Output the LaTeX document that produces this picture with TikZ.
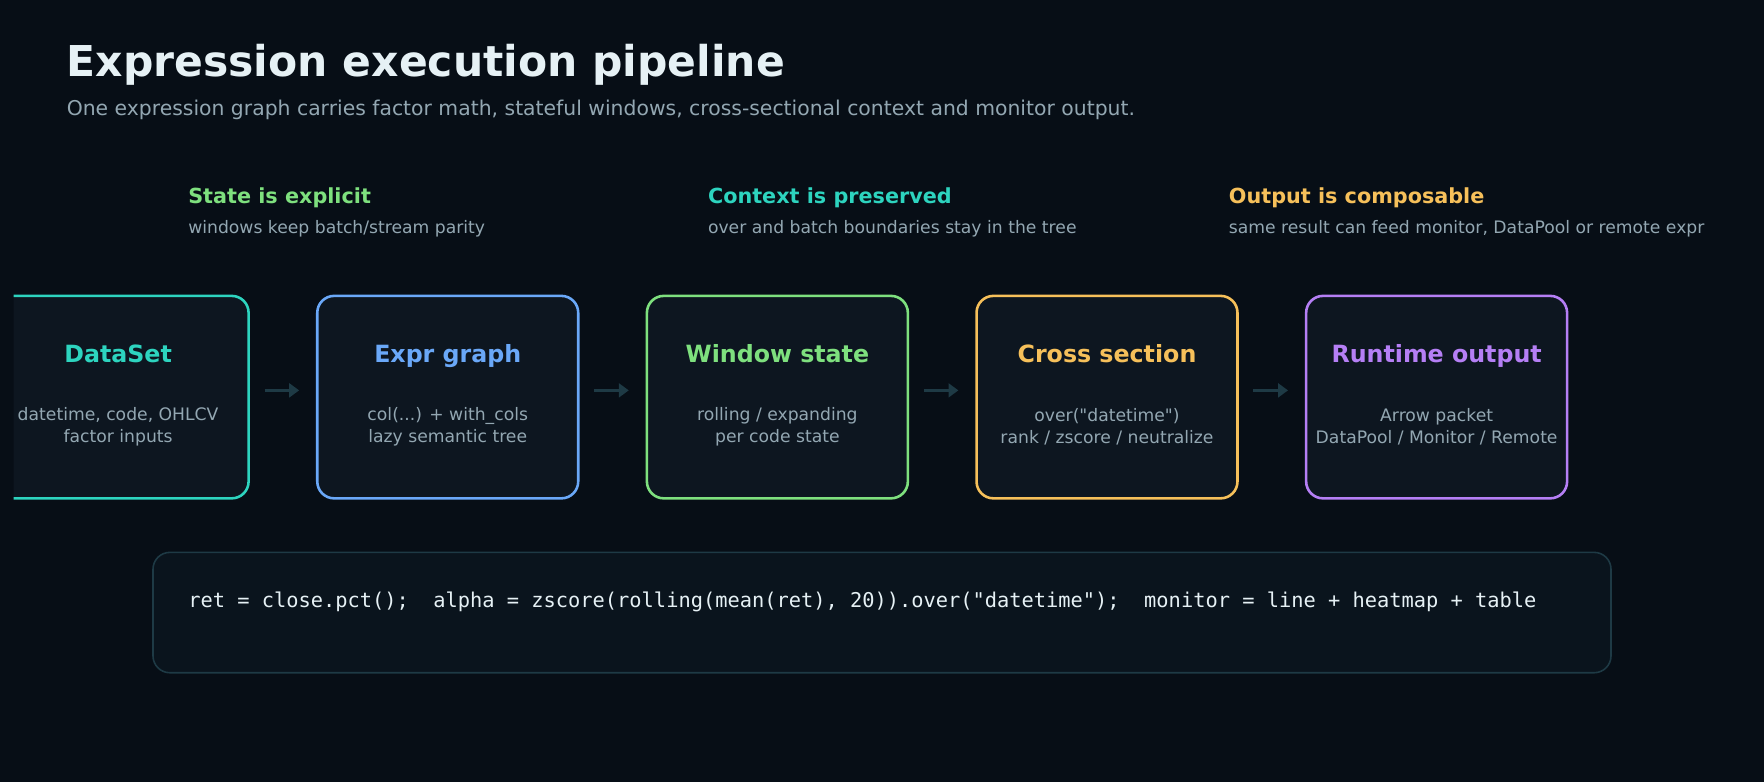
\documentclass[tikz,border=0pt]{standalone}
\usepackage{fontspec}
\setmainfont{DejaVu Sans}
\setmonofont{DejaVu Sans Mono}
\usetikzlibrary{arrows.meta}
\definecolor{bg}{HTML}{070E16}
\definecolor{boxfill}{HTML}{0D1620}
\definecolor{codefill}{HTML}{0A141D}
\definecolor{edge}{HTML}{1E3A45}
\definecolor{titlecol}{HTML}{E6F1F5}
\definecolor{muted}{HTML}{93A7B2}
\definecolor{cteal}{HTML}{2DD4BF}
\definecolor{cblue}{HTML}{6AA8F8}
\definecolor{cgreen}{HTML}{7EE07E}
\definecolor{corange}{HTML}{F6C05A}
\definecolor{cpurple}{HTML}{B57FF5}
\tikzset{
  stage/.style={draw=#1, line width=1.3pt, fill=boxfill, rounded corners=0.3cm,
    minimum width=4.64cm, minimum height=3.6cm},
  stagetitle/.style={font=\fontsize{12}{14}\selectfont\bfseries, text=#1, anchor=base, inner sep=0pt},
  stagetext/.style={font=\fontsize{8.7}{11.2}\selectfont, text=muted, align=center},
  headline/.style={font=\fontsize{10.5}{12}\selectfont\bfseries, text=#1, anchor=base west, inner sep=0pt},
  subline/.style={font=\fontsize{8.7}{10}\selectfont, text=muted, anchor=base west, inner sep=0pt},
  flow/.style={edge, line width=1.2pt, -{Triangle[length=5pt,width=7pt]}, shorten <=0.26cm, shorten >=0.3cm}
}
\begin{document}
\begin{tikzpicture}[x=0.02cm,y=-0.02cm]
\fill[bg] (0,0) rectangle (1568,695);
\useasboundingbox (0,0) rectangle (1568,695);

% title
\node[font=\fontsize{21.5}{24}\selectfont\bfseries, text=titlecol, anchor=base west, inner sep=0pt] (title) at (59,68) {Expression execution pipeline};
\node[font=\fontsize{10.3}{12}\selectfont, text=muted, anchor=base west, inner sep=0pt] (subtitle) at (59,103) {One expression graph carries factor math, stateful windows, cross-sectional context and monitor output.};

% notes
\node[headline=cgreen] (h1) at (167,181) {State is explicit};
\node[subline] (s1) at (167,208) {windows keep batch/stream parity};
\node[headline=cteal] (h2) at (629,181) {Context is preserved};
\node[subline] (s2) at (629,208) {over and batch boundaries stay in the tree};
\node[headline=corange] (h3) at (1092,181) {Output is composable};
\node[subline] (s3) at (1092,208) {same result can feed monitor, DataPool or remote expr};

% stages
\begin{scope}
\clip (12,250) rectangle (1568,460);
\node[stage=cteal] (dataset) at (105,353) {};
\end{scope}
\node[stage=cblue] (expr) at (398,353) {};
\node[stage=cgreen] (window) at (691,353) {};
\node[stage=corange] (cross) at (984,353) {};
\node[stage=cpurple] (runtime) at (1277,353) {};

\foreach \n/\c/\t/\s in {dataset/cteal/DataSet/{datetime, code, OHLCV\\factor inputs},
    expr/cblue/Expr graph/{col(...) + with\_cols\\lazy semantic tree},
    window/cgreen/Window state/{rolling / expanding\\per code state},
    cross/corange/Cross section/{over(\textquotedbl datetime\textquotedbl)\\rank / zscore / neutralize},
    runtime/cpurple/Runtime output/{Arrow packet\\DataPool / Monitor / Remote}} {
  \node[stagetitle=\c] (\n-title) at ([yshift=-1.2cm]\n.north) {\t};
  \node[stagetext] (\n-text) at ([yshift=-2.35cm]\n.north) {\s};
}

\draw[flow] (dataset.east |- 0,347) -- (expr.west |- 0,347);
\draw[flow] (expr.east |- 0,347) -- (window.west |- 0,347);
\draw[flow] (window.east |- 0,347) -- (cross.west |- 0,347);
\draw[flow] (cross.east |- 0,347) -- (runtime.west |- 0,347);

% code strip
\draw[edge, line width=0.8pt, fill=codefill, rounded corners=0.3cm] (136,491) rectangle (1432,598);
\node[font=\ttfamily\fontsize{10.3}{12}\selectfont, text=titlecol, anchor=base west, inner sep=0pt] (code) at (167,540)
  {ret = close.pct();\ \ alpha = zscore(rolling(mean(ret), 20)).over("datetime");\ \ monitor = line + heatmap + table};
\end{tikzpicture}
\end{document}
